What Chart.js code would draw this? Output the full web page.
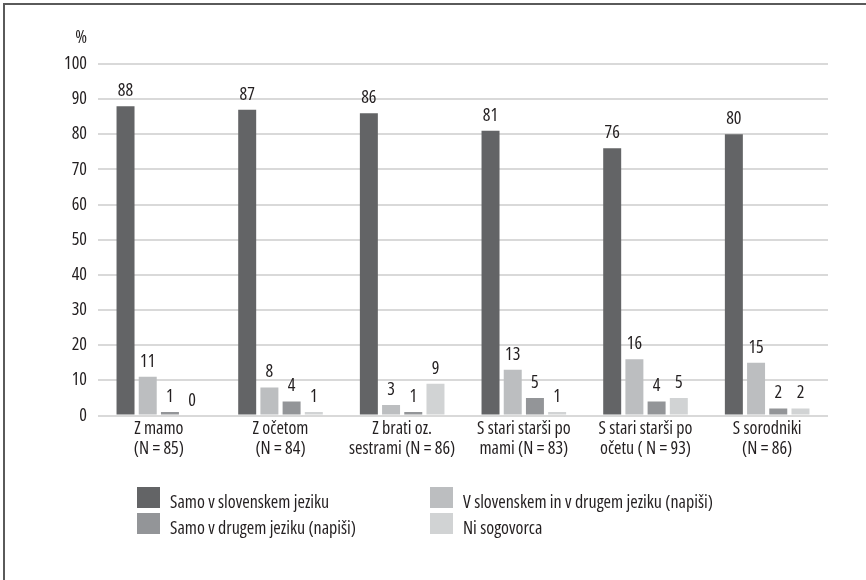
<!DOCTYPE html>
<html>
<head>
<meta charset="utf-8">
<title>Jezik sporazumevanja v družini</title>
<script src="https://cdn.jsdelivr.net/npm/chart.js@4.4.1/dist/chart.umd.min.js"></script>
<style>
  html, body { margin: 0; padding: 0; background: #fff; }
  #wrap { position: relative; width: 866px; height: 580px; }
  canvas { display: block; }
</style>
</head>
<body>
<div id="wrap"><canvas id="c" width="866" height="580"></canvas></div>
<script>
// Categories (two-line labels) and the four answer series, in %
const categories = [
  ['Z mamo', '(N = 85)'],
  ['Z očetom', '(N = 84)'],
  ['Z brati oz.', 'sestrami (N = 86)'],
  ['S stari starši po', 'mami (N = 83)'],
  ['S stari starši po', 'očetu ( N = 93)'],
  ['S sorodniki', '(N = 86)']
];
const seriesNames = [
  'Samo v slovenskem jeziku',
  'V slovenskem in v drugem jeziku (napiši)',
  'Samo v drugem jeziku (napiši)',
  'Ni sogovorca'
];
const samoSlovenski = [88, 87, 86, 81, 76, 80];
const slovenskiInDrugi = [11, 8, 3, 13, 16, 15];
const samoDrugi = [1, 4, 1, 5, 4, 2];
const niSogovorca = [0, 1, 9, 1, 5, 2];
const yTicks = [0, 10, 20, 30, 40, 50, 60, 70, 80, 90, 100];

const seriesValues = [samoSlovenski, slovenskiInDrugi, samoDrugi, niSogovorca];
const seriesColors = ['#636466', '#bcbec0', '#939598', '#d1d3d4'];

// condensed face of Open Sans (passed through the weight slot of the font shorthand)
const FAMILY = '"Open Sans", "DejaVu Sans Condensed", sans-serif';
const STRETCH = 'condensed';
const SIZE = 18;
const CSS_FONT = `normal ${STRETCH} ${SIZE}px ${FAMILY}`;
const TEXT = '#231f20';

// value labels above each bar
const valueLabels = {
  id: 'valueLabels',
  afterDatasetsDraw(chart) {
    const ctx = chart.ctx;
    ctx.save();
    ctx.font = CSS_FONT;
    ctx.fillStyle = TEXT;
    ctx.textAlign = 'center';
    ctx.textBaseline = 'alphabetic';
    chart.data.datasets.forEach((ds, i) => {
      chart.getDatasetMeta(i).data.forEach((bar, j) => {
        ctx.fillText(String(ds.data[j]), bar.x, bar.y - 10);
      });
    });
    ctx.restore();
  }
};

// frame, unit mark and the two-column legend
const decorations = {
  id: 'decorations',
  afterDraw(chart) {
    const ctx = chart.ctx;
    ctx.save();
    ctx.fillStyle = '#5a5a5a';
    ctx.fillRect(3, 3, 2, 577);
    ctx.fillRect(3, 3, 863, 2);

    ctx.font = CSS_FONT;
    ctx.fillStyle = TEXT;
    ctx.textAlign = 'right';
    ctx.textBaseline = 'alphabetic';
    ctx.fillText('%', 87, 43);

    const cols = [137, 430];
    const rows = [487, 513];
    ctx.textAlign = 'left';
    seriesNames.forEach((name, i) => {
      const cx = cols[i % 2];
      const ry = rows[Math.floor(i / 2)];
      ctx.fillStyle = seriesColors[i];
      ctx.fillRect(cx, ry, 23, 21);
      ctx.fillStyle = TEXT;
      ctx.fillText(name, cx + 33, ry + 21);
    });
    ctx.restore();
  }
};

new Chart(document.getElementById('c'), {
  type: 'bar',
  data: {
    labels: categories,
    datasets: seriesNames.map((name, i) => ({
      label: name,
      data: seriesValues[i],
      backgroundColor: seriesColors[i],
      borderWidth: 0,
      categoryPercentage: 0.73,
      barPercentage: 0.81
    }))
  },
  options: {
    responsive: false,
    animation: false,
    devicePixelRatio: 1,
    events: [],
    layout: { padding: { top: 64, left: 0, right: 38, bottom: 0 } },
    plugins: {
      legend: { display: false },
      tooltip: { enabled: false },
      title: { display: false }
    },
    scales: {
      x: {
        grid: { display: false, drawTicks: false },
        border: { display: false },
        ticks: {
          color: TEXT,
          font: { family: FAMILY, size: SIZE, weight: STRETCH, lineHeight: 20 / SIZE },
          padding: 3,
          maxRotation: 0,
          autoSkip: false
        },
        afterFit(scale) { scale.height = 164.5; }
      },
      y: {
        min: 0,
        max: 100,
        afterBuildTicks(scale) { scale.ticks = yTicks.map(v => ({ value: v })); },
        grid: { color: '#d9d9d9', lineWidth: 2, drawTicks: false },
        border: { display: false },
        ticks: {
          color: TEXT,
          font: { family: FAMILY, size: SIZE, weight: STRETCH },
          padding: 11
        },
        afterFit(scale) { scale.width = 98; }
      }
    }
  },
  plugins: [valueLabels, decorations]
});
</script>
</body>
</html>
